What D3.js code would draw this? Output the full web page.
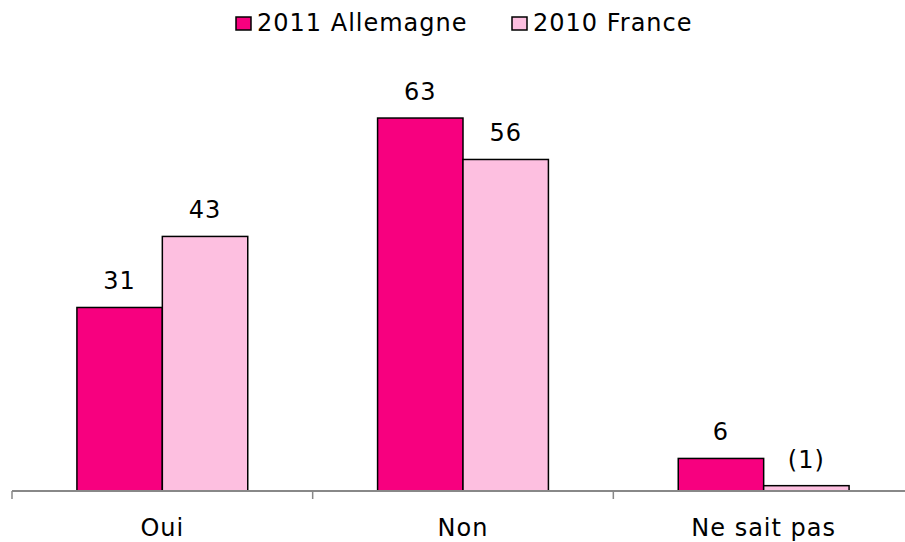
<!DOCTYPE html>
<html>
<head>
<meta charset="utf-8">
<script src="https://cdn.jsdelivr.net/npm/d3@7"></script>
<style>
  body { margin: 0; background: #fff; }
  text { font-family: "DejaVu Sans", Verdana, sans-serif; fill: #000; }
</style>
</head>
<body>
<div id="chart"></div>
<script>
var categories = ["Oui", "Non", "Ne sait pas"];
var series = ["2011 Allemagne", "2010 France"];
var allemagne = [31, 63, 5.5];
var france = [43, 56, 0.9];
var allemagneLabels = ["31", "63", "6"];
var franceLabels = ["43", "56", "(1)"];
var colors = ["#f7007f", "#fdbfe0"];

var width = 905, height = 542;
var fontSize = "24px", spacing = "1px";

var svg = d3.select("#chart")
    .append("svg")
    .attr("width", width)
    .attr("height", height);

var rows = categories.map(function(c, i) {
  return {cat: c, vals: [
    {s: series[0], v: allemagne[i], label: allemagneLabels[i], k: 0},
    {s: series[1], v: france[i], label: franceLabels[i], k: 1}
  ]};
});

var x0 = d3.scaleBand()
    .domain(categories)
    .range([12, 914])
    .paddingInner(0)
    .paddingOuter(0);

var x1 = d3.scaleBand()
    .domain(series)
    .range([0, x0.bandwidth()])
    .paddingInner(0)
    .paddingOuter(0.76);

var y = d3.scaleLinear()
    .domain([0, 70])
    .range([491, 491 - 70 * 5.92]);

////////// bars //////////
var groups = svg.append("g")
  .selectAll("g")
    .data(rows)
    .enter()
    .append("g")
    .attr("transform", function(d) { return "translate(" + x0(d.cat) + ",0)"; });

groups.selectAll("rect")
    .data(function(d) { return d.vals; })
    .enter()
    .append("rect")
    .attr("x", function(d) { return x1(d.s); })
    .attr("y", function(d) { return y(d.v); })
    .attr("width", x1.bandwidth())
    .attr("height", function(d) { return y(0) - y(d.v); })
    .style("fill", function(d) { return colors[d.k]; })
    .style("stroke", "#000")
    .style("stroke-width", 1.5);

groups.selectAll("text")
    .data(function(d) { return d.vals; })
    .enter()
    .append("text")
    .attr("x", function(d) { return x1(d.s) + x1.bandwidth() / 2; })
    .attr("y", function(d) { return y(d.v) - 18; })
    .attr("text-anchor", "middle")
    .style("font-size", fontSize)
    .style("letter-spacing", spacing)
    .text(function(d) { return d.label; });

////////// axis //////////
var axis = svg.append("g")
    .attr("transform", "translate(0," + y(0) + ")")
    .call(d3.axisBottom(x0).tickSize(0).tickPadding(28));

axis.select(".domain")
    .attr("d", "M12,0H905")
    .style("stroke", "#888")
    .style("stroke-width", 2);

axis.selectAll(".tick text")
    .style("font-size", fontSize)
    .style("letter-spacing", spacing)
    .style("font-family", "\"DejaVu Sans\", Verdana, sans-serif");

svg.append("g")
  .selectAll("line")
    .data(categories)
    .enter()
    .append("line")
    .attr("x1", function(d) { return x0(d); })
    .attr("x2", function(d) { return x0(d); })
    .attr("y1", y(0))
    .attr("y2", y(0) + 8)
    .style("stroke", "#888")
    .style("stroke-width", 1.5);

////////// legend //////////
var legendX = [236, 512];
var legend = svg.append("g")
  .selectAll("g")
    .data(series)
    .enter()
    .append("g")
    .attr("transform", function(d, i) { return "translate(" + legendX[i] + ",0)"; });

legend.append("rect")
    .attr("x", 0)
    .attr("y", 17)
    .attr("width", 15)
    .attr("height", 13)
    .style("fill", function(d, i) { return colors[i]; })
    .style("stroke", "#000")
    .style("stroke-width", 1.5);

legend.append("text")
    .attr("x", 21)
    .attr("y", 31)
    .style("font-size", fontSize)
    .style("letter-spacing", spacing)
    .text(function(d) { return d; });
</script>
</body>
</html>
